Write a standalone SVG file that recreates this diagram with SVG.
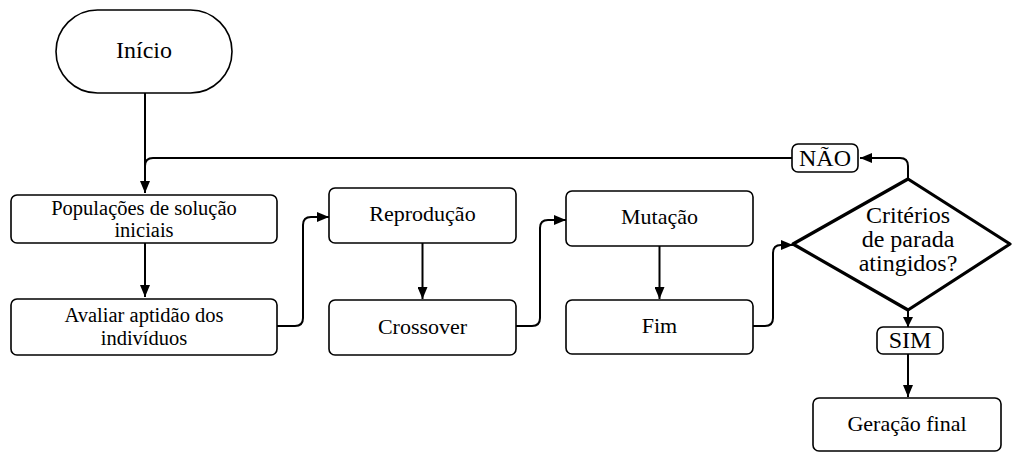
<svg xmlns="http://www.w3.org/2000/svg" width="1013" height="452" viewBox="0 0 1013 452">
<defs>
<marker id="ah" viewBox="0 0 10 10" refX="10" refY="5" markerWidth="10" markerHeight="10" markerUnits="userSpaceOnUse" orient="auto">
<path d="M0,0 L10,5 L0,10 Z" fill="#000"/>
</marker>
<marker id="ahL" viewBox="0 0 12 10" refX="12" refY="5" markerWidth="12" markerHeight="10" markerUnits="userSpaceOnUse" orient="auto">
<path d="M0,0 L12,5 L0,10 Z" fill="#000"/>
</marker>
</defs>
<style>
.box{fill:#fff;stroke:#000;stroke-width:1.6}
.dia{fill:#fff;stroke:#000;stroke-width:3.2;stroke-linejoin:round}
.t{font-family:'Liberation Serif','DejaVu Serif',serif;font-size:22px;fill:#000;text-anchor:middle;dominant-baseline:central}
.tl{font-size:24px}
.ts{font-size:20.5px}
.c{fill:none;stroke:#000;stroke-width:2}
</style>
<rect width="1013" height="452" fill="#fff"/>
<g id="connectors">
<path class="c" d="M145,93 V193" marker-end="url(#ahL)"/>
<path class="c" d="M908,179 V166 Q908,158 900,158 H860" marker-end="url(#ahL)"/>
<path class="c" d="M792,158 H153 Q145,158 145,166 V193"/>
<path class="c" d="M145,243 V297" marker-end="url(#ahL)"/>
<path class="c" d="M277,326 H295 Q303,326 303,318 V225 Q303,217 311,217 H329" marker-end="url(#ahL)"/>
<path class="c" d="M422.5,243 V299" marker-end="url(#ahL)"/>
<path class="c" d="M516,326 H532 Q540,326 540,318 V228 Q540,220 548,220 H566" marker-end="url(#ahL)"/>
<path class="c" d="M659.5,246 V299" marker-end="url(#ahL)"/>
<path class="c" d="M753,326 H765 Q773,326 773,318 V253 Q773,245 781,245 H793" marker-end="url(#ahL)"/>
<path class="c" d="M908,310 V327" marker-end="url(#ah)"/>
<path class="c" d="M908,354 V397" marker-end="url(#ahL)"/>
</g>
<g id="inicio">
<rect class="box" x="56" y="10" width="176" height="83" rx="41.5"/>
<text class="t tl" x="144" y="50">Início</text>
</g>
<g id="populacoes">
<rect class="box" x="11" y="195" width="266" height="48" rx="6"/>
<text class="t ts" x="144" y="208">Populações de solução</text>
<text class="t ts" x="144" y="230">iniciais</text>
</g>
<g id="avaliar">
<rect class="box" x="11" y="299" width="266" height="56" rx="6"/>
<text class="t ts" x="144" y="315">Avaliar aptidão dos</text>
<text class="t ts" x="144" y="338">indivíduos</text>
</g>
<g id="reproducao">
<rect class="box" x="329" y="188" width="187" height="55" rx="6"/>
<text class="t" x="422.5" y="213">Reprodução</text>
</g>
<g id="crossover">
<rect class="box" x="329" y="300" width="187" height="55" rx="6"/>
<text class="t" x="422.5" y="326">Crossover</text>
</g>
<g id="mutacao">
<rect class="box" x="566" y="191" width="187" height="55" rx="6"/>
<text class="t" x="659.5" y="216">Mutação</text>
</g>
<g id="fim">
<rect class="box" x="566" y="300" width="187" height="54" rx="6"/>
<text class="t" x="659.5" y="325">Fim</text>
</g>
<g id="criterios">
<path class="dia" d="M908,179 L1010,244 L908,310 L793,244 Z"/>
<text class="t tl" x="908" y="215">Critérios</text>
<text class="t tl" x="908" y="239">de parada</text>
<text class="t tl" x="908" y="263">atingidos?</text>
</g>
<g id="nao">
<rect class="box" x="792" y="144" width="66" height="28" rx="6"/>
<text class="t tl" x="825" y="158">NÃO</text>
</g>
<g id="sim">
<rect class="box" x="877" y="327" width="66" height="27" rx="6"/>
<text class="t tl" x="910" y="340">SIM</text>
</g>
<g id="geracao">
<rect class="box" x="813" y="398" width="188" height="53" rx="6"/>
<text class="t" x="907" y="423">Geração final</text>
</g>
</svg>
